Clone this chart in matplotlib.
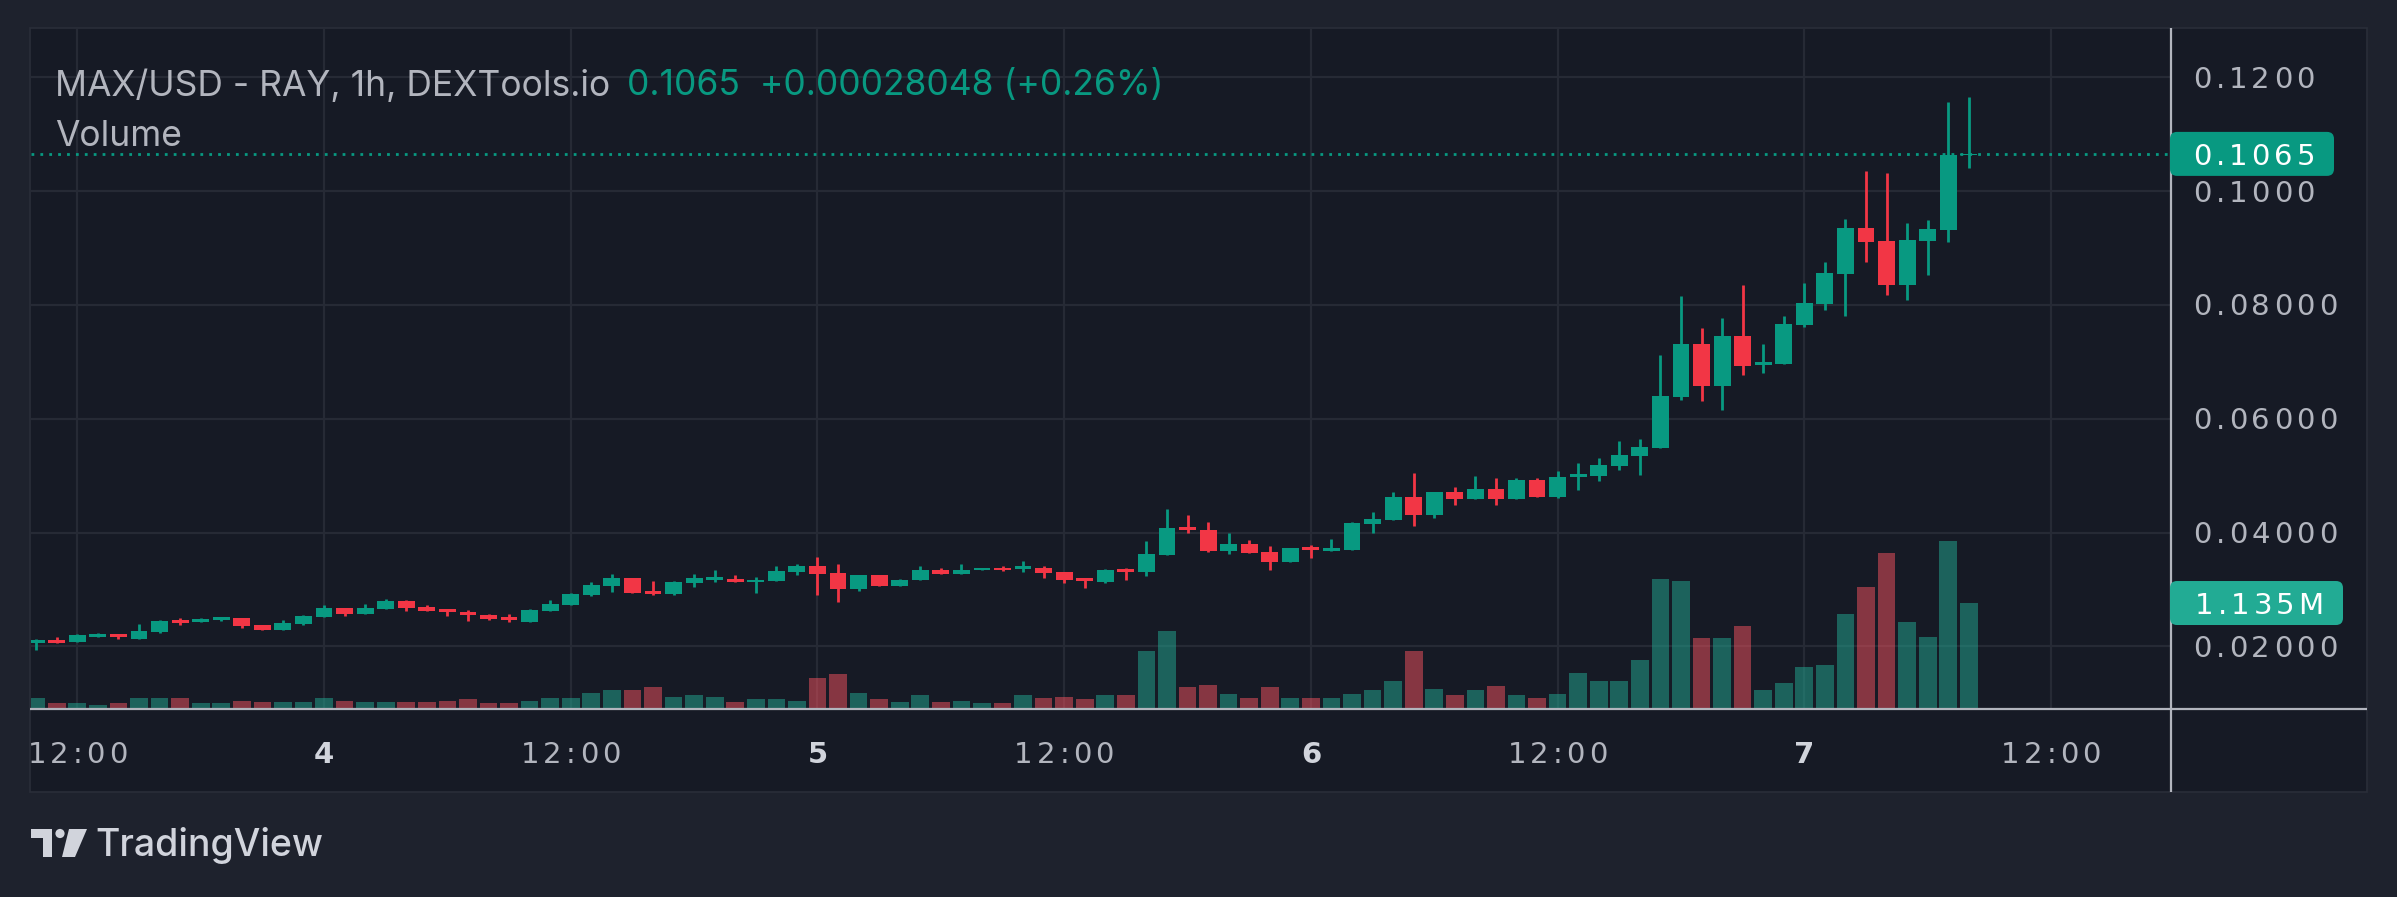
import matplotlib
matplotlib.use("Agg")
import matplotlib.pyplot as plt
import matplotlib.transforms as mtransforms
from matplotlib.patches import FancyBboxPatch, Rectangle, Circle, Polygon
from matplotlib.font_manager import findfont, FontProperties
from matplotlib.ft2font import FT2Font
import numpy as np

# ---------------- data ----------------
opens = [0.02064, 0.02111, 0.02082, 0.02170, 0.02217, 0.02135, 0.02258, 0.02462, 0.02433, 0.02468,
         0.02497, 0.02375, 0.02293, 0.02398, 0.02521, 0.02673, 0.02574, 0.02661, 0.02796, 0.02691,
         0.02656, 0.02603, 0.02550, 0.02515, 0.02433, 0.02626, 0.02732, 0.02907, 0.03065, 0.03200,
         0.02972, 0.02925, 0.03118, 0.03165, 0.03194, 0.03130, 0.03147, 0.03305, 0.03405, 0.03282,
         0.03007, 0.03247, 0.03059, 0.03165, 0.03335, 0.03270, 0.03340, 0.03387, 0.03358, 0.03387,
         0.03305, 0.03200, 0.03135, 0.03358, 0.03311, 0.03604, 0.04095, 0.04043, 0.03674, 0.03797,
         0.03656, 0.03481, 0.03744, 0.03680, 0.03691, 0.04148, 0.04218, 0.04622, 0.04312, 0.04710,
         0.04593, 0.04763, 0.04593, 0.04921, 0.04622, 0.04979, 0.04991, 0.05166, 0.05342, 0.05483,
         0.06378, 0.07313, 0.06568, 0.07448, 0.06937, 0.06958, 0.07646, 0.08015, 0.08540, 0.09348,
         0.09121, 0.08348, 0.09121, 0.09312, 0.10622]
highs = [0.02129, 0.02164, 0.02217, 0.02234, 0.02217, 0.02392, 0.02462, 0.02497, 0.02497, 0.02515,
         0.02497, 0.02375, 0.02462, 0.02550, 0.02726, 0.02673, 0.02743, 0.02831, 0.02814, 0.02726,
         0.02656, 0.02638, 0.02568, 0.02562, 0.02656, 0.02814, 0.02936, 0.03130, 0.03270, 0.03200,
         0.03147, 0.03147, 0.03270, 0.03335, 0.03264, 0.03212, 0.03405, 0.03440, 0.03580, 0.03440,
         0.03264, 0.03247, 0.03194, 0.03422, 0.03387, 0.03440, 0.03387, 0.03405, 0.03493, 0.03405,
         0.03305, 0.03200, 0.03358, 0.03375, 0.03850, 0.04411, 0.04306, 0.04183, 0.03990, 0.03867,
         0.03762, 0.03727, 0.03779, 0.03885, 0.04183, 0.04359, 0.04710, 0.05044, 0.04710, 0.04798,
         0.04991, 0.04956, 0.04956, 0.04956, 0.05079, 0.05219, 0.05307, 0.05605, 0.05640, 0.07116,
         0.08152, 0.07589, 0.07767, 0.08348, 0.07313, 0.07802, 0.08383, 0.08752, 0.09511, 0.10355,
         0.10319, 0.09440, 0.09490, 0.11567, 0.11652]
lows = [0.01936, 0.02064, 0.02082, 0.02170, 0.02129, 0.02135, 0.02240, 0.02375, 0.02433, 0.02451,
        0.02322, 0.02293, 0.02293, 0.02380, 0.02521, 0.02533, 0.02574, 0.02661, 0.02626, 0.02626,
        0.02538, 0.02451, 0.02468, 0.02433, 0.02433, 0.02626, 0.02732, 0.02890, 0.02960, 0.02942,
        0.02907, 0.02907, 0.03048, 0.03141, 0.03130, 0.02948, 0.03147, 0.03253, 0.02901, 0.02778,
        0.02972, 0.03059, 0.03059, 0.03165, 0.03270, 0.03270, 0.03340, 0.03323, 0.03305, 0.03200,
        0.03112, 0.03030, 0.03118, 0.03171, 0.03241, 0.03604, 0.03996, 0.03662, 0.03621, 0.03645,
        0.03340, 0.03481, 0.03551, 0.03680, 0.03691, 0.03990, 0.04218, 0.04119, 0.04259, 0.04488,
        0.04593, 0.04488, 0.04593, 0.04622, 0.04605, 0.04745, 0.04903, 0.05096, 0.05008, 0.05483,
        0.06325, 0.06306, 0.06150, 0.06767, 0.06800, 0.06958, 0.07611, 0.07908, 0.07802, 0.08752,
        0.08171, 0.08086, 0.08525, 0.09107, 0.10397]
closes = [0.02111, 0.02064, 0.02199, 0.02217, 0.02170, 0.02269, 0.02445, 0.02416, 0.02480, 0.02515,
          0.02363, 0.02293, 0.02410, 0.02533, 0.02673, 0.02574, 0.02673, 0.02796, 0.02679, 0.02626,
          0.02609, 0.02556, 0.02486, 0.02468, 0.02638, 0.02743, 0.02919, 0.03077, 0.03200, 0.02942,
          0.02925, 0.03130, 0.03200, 0.03212, 0.03130, 0.03176, 0.03317, 0.03405, 0.03270, 0.03007,
          0.03247, 0.03059, 0.03176, 0.03335, 0.03270, 0.03352, 0.03387, 0.03340, 0.03405, 0.03288,
          0.03171, 0.03153, 0.03340, 0.03311, 0.03621, 0.04078, 0.04049, 0.03680, 0.03797, 0.03645,
          0.03481, 0.03727, 0.03697, 0.03727, 0.04166, 0.04236, 0.04622, 0.04312, 0.04710, 0.04593,
          0.04763, 0.04593, 0.04921, 0.04622, 0.04973, 0.05026, 0.05184, 0.05360, 0.05500, 0.06396,
          0.07309, 0.06568, 0.07448, 0.06923, 0.06994, 0.07660, 0.08029, 0.08561, 0.09348, 0.09107,
          0.08348, 0.09142, 0.09334, 0.10622, 0.10650]
volumes_k = [118, 54, 54, 43, 54, 118, 118, 118, 54, 54, 86, 65, 75, 75, 108, 86, 65,
             65, 75, 65, 86, 97, 54, 54, 86, 118, 108, 172, 204, 204, 226, 129, 140,
             129, 65, 97, 97, 86, 333, 366, 172, 97, 65, 140, 65, 86, 54, 54, 140, 108,
             129, 97, 140, 140, 624, 829, 226, 258, 151, 108, 226, 118, 108, 108, 151, 204, 291,
             624, 215, 140, 194, 237, 140, 108, 161, 387, 291, 291, 517, 1388, 1367,
             762, 762, 888, 204, 277, 451, 472, 1018, 1308, 1672, 931, 771, 1802, 1135]

time_tick_idx = [2, 14, 26, 38, 50, 62, 74, 86, 98]
time_tick_labels = ["12:00", "4", "12:00", "5", "12:00", "6", "12:00", "7", "12:00"]
price_ticks = [0.02, 0.04, 0.06, 0.08, 0.10, 0.12]
price_tick_labels = ["0.02000", "0.04000", "0.06000", "0.08000", "0.1000", "0.1200"]
last_price = 0.1065
last_price_label = "0.1065"
change_text = "0.1065  +0.00028048 (+0.26%)"
last_volume = 1135000
last_volume_label = "1.135M"
title_text = "MAX/USD - RAY, 1h, DEXTools.io"

# ---------------- style ----------------
W, H, DPI = 2397, 897, 100
OUTER_BG = "#1E222D"
PANE_BG = "#161A25"
GRID = "#262A35"
FRAME = "#2A2E39"
AXIS_LINE = "#B2B5BE"
TXT = "#B2B5BE"
UP = "#089981"
DOWN = "#F23645"
VOL_UP = "#22AB94"
VOL_DOWN = "#F7525F"

L, R, T, B = 30.5, 2170.5, 29.0, 708.5     # pane in pixels (top origin)
XLIM = (-0.277, 103.81)
YLIM = (0.009113, 0.12843)
VLIM = (0, 7.311e6)

fig = plt.figure(figsize=(W / DPI, H / DPI), dpi=DPI, facecolor=OUTER_BG)

fig.add_artist(Rectangle((30 / W, 1 - 792 / H), (2367 - 30) / W, (792 - 28.5) / H,
                         transform=fig.transFigure, facecolor=PANE_BG, edgecolor=FRAME,
                         linewidth=1.2, zorder=-5))

rect = [L / W, 1 - B / H, (R - L) / W, (B - T) / H]
ax_vol = fig.add_axes(rect, zorder=1)
ax = fig.add_axes(rect, zorder=2)
for a in (ax_vol, ax):
    a.set_xlim(*XLIM)
    a.set_xticks([]); a.set_yticks([])
    for s in a.spines.values():
        s.set_visible(False)
ax_vol.set_facecolor(PANE_BG)
ax.patch.set_alpha(0)
ax.set_ylim(*YLIM)
ax_vol.set_ylim(*VLIM)

hblend = mtransforms.blended_transform_factory(ax_vol.transAxes, ax.transData)
for p in price_ticks:
    ax_vol.plot([0, 1], [p, p], transform=hblend, color=GRID, lw=1.6, zorder=0)
for xi in time_tick_idx:
    ax_vol.axvline(xi, color=GRID, lw=1.6, zorder=0)

x = np.arange(len(opens))
o = np.array(opens); c = np.array(closes); h = np.array(highs); lo = np.array(lows)
up = c >= o

ax_vol.bar(x, np.array(volumes_k) * 1000, width=0.86,
           color=[VOL_UP if u else VOL_DOWN for u in up], alpha=0.5, zorder=2, linewidth=0)

cols = [UP if u else DOWN for u in up]
ax.vlines(x, lo, h, colors=cols, linewidth=2.0, zorder=3)
body_bottom = np.minimum(o, c)
body_h = np.maximum(np.abs(c - o), 0.00022)
ax.bar(x, body_h, bottom=body_bottom, width=0.82, color=cols, linewidth=0, zorder=4)

ax.axhline(last_price, color=UP, lw=2.0, ls=(0, (1, 2.2)), zorder=5)

# ---------------- overlay in pixel coords (top origin) ----------------
ov = fig.add_axes([0, 0, 1, 1], zorder=5)
ov.set_xlim(0, W); ov.set_ylim(H, 0); ov.axis("off"); ov.patch.set_alpha(0)

def py_price(p):
    return H - ax.transData.transform((0, p))[1]

def py_vol(v):
    return H - ax_vol.transData.transform((0, v))[1]

AXFONT = "DejaVu Sans"
AXSIZE = 21
TRACK = 4.0
_font_cache = {}

def char_adv(ch, weight):
    key = weight
    if key not in _font_cache:
        f = FT2Font(findfont(FontProperties(family=AXFONT, weight=weight)))
        f.set_size(AXSIZE, DPI)
        _font_cache[key] = f
    f = _font_cache[key]
    g = f.load_char(ord(ch))
    return g.linearHoriAdvance / 65536.0

def tracked_text(x0, yc, s, color, ha="left", weight="normal", zorder=5):
    advs = [char_adv(ch, weight) for ch in s]
    total = sum(advs) + TRACK * (len(s) - 1)
    if ha == "center":
        x0 = x0 - total / 2.0
    em = AXSIZE * DPI / 72.0
    ybase = yc + 0.729 * em / 2.0
    xx = x0
    for ch, a in zip(s, advs):
        ov.text(xx, ybase, ch, color=color, fontsize=AXSIZE, family=AXFONT,
                fontweight=weight, ha="left", va="baseline", zorder=zorder)
        xx += a + TRACK

ov.plot([R, R], [28.5, 792], color=AXIS_LINE, lw=1.6, solid_capstyle="butt", zorder=3)
ov.plot([30, 2367], [B + 1, B + 1], color=AXIS_LINE, lw=1.6, solid_capstyle="butt", zorder=3)

for p, lab in zip(price_ticks, price_tick_labels):
    tracked_text(2193, py_price(p), lab, TXT, zorder=1)

yp = py_price(last_price)
ov.add_patch(FancyBboxPatch((2170, yp - 22), 164, 44, boxstyle="round,pad=0,rounding_size=7",
                            facecolor=UP, edgecolor="none", zorder=4))
tracked_text(2193, yp, last_price_label, "white", zorder=5)

yv = py_vol(last_volume)
ov.add_patch(FancyBboxPatch((2170, yv - 22), 173, 44, boxstyle="round,pad=0,rounding_size=7",
                            facecolor=VOL_UP, edgecolor="none", zorder=4))
tracked_text(2195, yv, last_volume_label, "white", zorder=5)

for xi, lab in zip(time_tick_idx, time_tick_labels):
    bold = lab != "12:00"
    xc = ax.transData.transform((xi, 0))[0]
    tracked_text(xc, 752, lab, "#D1D4DC" if bold else TXT, ha="center",
                 weight="bold" if bold else "normal")

ov.text(55, 86, title_text, color=TXT, fontsize=25.5, family="Inter", ha="left", va="center")
ov.text(627, 86, change_text, color=UP, fontsize=25.5, family="Inter", ha="left", va="center")
ov.text(55, 137, "Volume", color=TXT, fontsize=25.5, family="Inter", ha="left", va="center")

LOGO = "#D1D4DC"
ov.add_patch(Polygon([(31, 829), (52, 829), (52, 857), (43, 857), (43, 838), (31, 838)],
                     closed=True, facecolor=LOGO, edgecolor="none"))
ov.add_patch(Circle((60, 833.5), 4.6, facecolor=LOGO, edgecolor="none"))
ov.add_patch(Polygon([(69, 829), (87, 829), (75, 857), (62, 857)],
                     closed=True, facecolor=LOGO, edgecolor="none"))
ov.text(95, 845, "TradingView", color=LOGO, fontsize=27, family="Inter",
        fontweight="medium", ha="left", va="center")

fig.savefig("out.png", dpi=DPI, facecolor=OUTER_BG)
